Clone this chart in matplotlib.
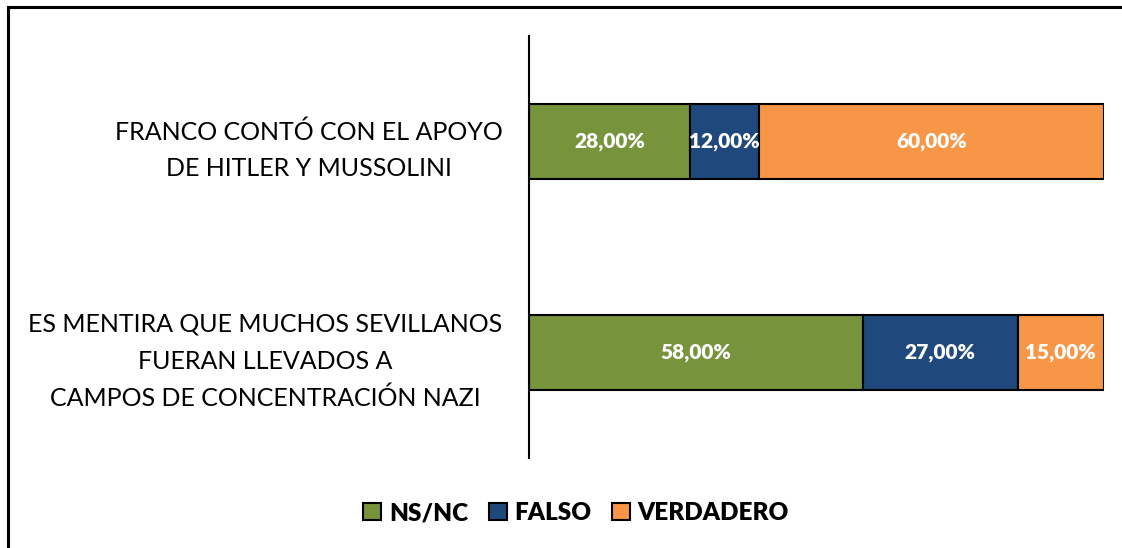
import matplotlib
matplotlib.use("Agg")
import matplotlib.pyplot as plt
from matplotlib.patches import Rectangle, Patch
import numpy as np

categories = ["ES MENTIRA QUE MUCHOS SEVILLANOS\nFUERAN LLEVADOS A\nCAMPOS DE CONCENTRACIÓN NAZI",
              "FRANCO CONTÓ CON EL APOYO\nDE HITLER Y MUSSOLINI"]
series_names = ["NS/NC", "FALSO", "VERDADERO"]
ns_nc = [58.0, 28.0]
falso = [27.0, 12.0]
verdadero = [15.0, 60.0]
colors = ["#77933C", "#1F497D", "#F79646"]

W, H = 1122, 548
fig = plt.figure(figsize=(W / 100, H / 100), dpi=100)
plt.rcParams['font.family'] = ['Lato', 'DejaVu Sans']

# axes: x from 529 to 1104 px, y from 36 to 458 px
ax = fig.add_axes([529 / W, 1 - 458 / H, (1104 - 529) / W, (458 - 36) / H])
ax.set_xlim(0, 100)
ax.set_ylim(-0.5, 1.5)

y = np.arange(len(categories))
left = np.zeros(len(categories))
for name, vals, c in zip(series_names, [ns_nc, falso, verdadero], colors):
    ax.barh(y, vals, left=left, height=0.36, color=c, edgecolor="black",
            linewidth=1.5, label=name)
    for yi, l, v in zip(y, left, vals):
        ax.text(l + v / 2, yi, f"{v:.2f}%".replace(".", ","), ha="center", va="center",
                color="white", fontsize=15, fontweight="heavy")
    left = left + np.array(vals)

for s in ["top", "right", "bottom"]:
    ax.spines[s].set_visible(False)
ax.spines["left"].set_linewidth(1.5)
ax.set_xticks([])
ax.set_yticks(y)
ax.set_yticklabels(categories, fontsize=18, multialignment="center", linespacing=1.72)
ax.tick_params(axis="y", length=0, pad=19)

handles = [Patch(facecolor=c, edgecolor="black", linewidth=1.5) for c in colors]
leg = fig.legend(handles, series_names, loc="center", bbox_to_anchor=(576 / W, 1 - 513 / H),
                 ncol=3, frameon=False, prop={"weight": "heavy", "size": 17.5},
                 handlelength=0.75, handleheight=0.75, handletextpad=0.3, columnspacing=0.85)

# outer frame (left and top edges visible)
fig.patches.append(Rectangle((8 / W, -0.1), 1.2, 1 - 7 / H + 0.1, transform=fig.transFigure,
                             fill=False, edgecolor="black", linewidth=2.2))

fig.savefig("out.png", dpi=100)
